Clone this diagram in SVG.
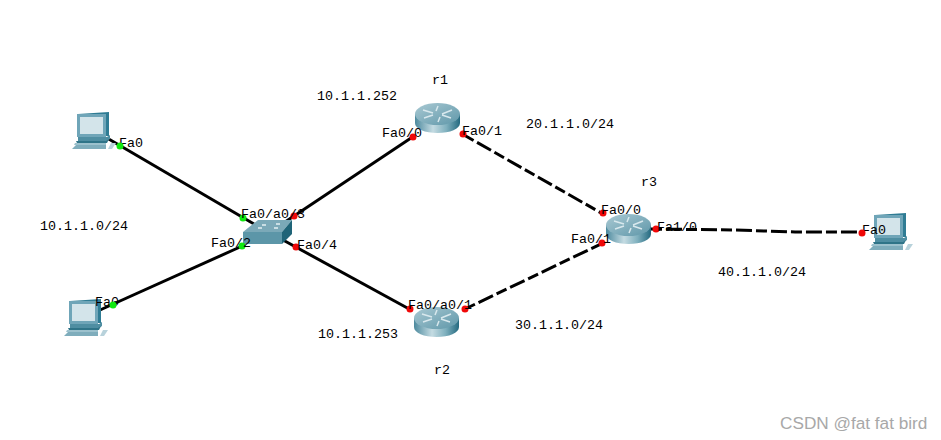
<svg xmlns="http://www.w3.org/2000/svg" width="941" height="440" viewBox="0 0 941 440">
<style>
text{font-family:"Liberation Mono",monospace;font-size:13.33px;fill:#000}
text.wm{font-family:"Liberation Sans",Arial,sans-serif;font-size:17.2px;fill:#a8a8a8}
.l{fill:none;stroke:#000;stroke-width:3}
.d{stroke-dasharray:11 4 16 4}
.g{fill:#10e810}.r{fill:#f00808}
</style>
<defs>
<linearGradient id="rb" x1="0" x2="1" y1="0" y2="0"><stop offset="0" stop-color="#4d8a9e"/><stop offset=".4" stop-color="#c4dbe2"/><stop offset=".7" stop-color="#7fb0be"/><stop offset="1" stop-color="#256a80"/></linearGradient>
<linearGradient id="rt" x1="0" x2="1" y1="0" y2="1"><stop offset="0" stop-color="#a9c9d3"/><stop offset="1" stop-color="#5f97a9"/></linearGradient>
<g id="router">
<path d="M0 11V20C0 26 10 30 22.500 30S45 26 45 20V11Z" fill="url(#rb)"/>
<ellipse cx="22.500" cy="11" rx="22.500" ry="11" fill="url(#rt)"/>
<path d="M8 7 18 10M37 7 27 11M9 15 18 12M36 15 27 12M23 3 21 8M23 19 25 14" stroke="#d8e8ed" stroke-width="1.500" fill="none"/>
</g>
<g id="pc">
<path d="M6 2 37 0V24H35L6 25Z" fill="#2f7c94"/>
<rect x="5" y="2" width="29" height="23" fill="#6fa5b8"/>
<rect x="8" y="5" width="23" height="17" fill="#d3e4ea"/>
<path d="M6 25H35L38 23V27L35 29H6Z" fill="#4f8ea2"/>
<path d="M4 29H34L37 27 35 31H5Z" fill="#2f7488"/>
<path d="M3 31H34V33H2Z" fill="#9cc1cd"/>
<path d="M0 37 4 33H34V37Z" fill="#7fadbc"/>
<path d="M36 37 39 31H44L40 37Z" fill="#b8d2db"/>
</g>
</defs>
<rect width="941" height="440" fill="#fff"/>
<g id="connectors">
<path class="l" d="M107 138 254 224"/>
<path class="l" d="M100 310 240 247"/>
<path class="l" d="M285 222 414 136"/>
<path class="l" d="M283 240 411 310"/>
<path class="l d" d="M464 135 603 214"/>
<path class="l d" d="M465 309 603 243"/>
<path class="l d" d="M651 229 735 230 795 232 862 232"/>
</g>
<g id="pc1"><use href="#pc" x="72" y="112"/><text x="119" y="147">Fa0</text></g>
<g id="pc2"><use href="#pc" x="64" y="299"/><text x="95" y="306">Fa0</text></g>
<g id="pc3"><use href="#pc" x="869" y="213"/><text x="862" y="234">Fa0</text></g>
<g id="switch">
<path d="M243 232 258 220H292L282 232Z" fill="#7ba9b8"/>
<path d="M243 232H282V244H243Z" fill="#5c96a8"/>
<path d="M282 232 292 220V234L282 244Z" fill="#1f6478"/>
<path d="M258 228h4M276 224h4M262 225h4M274 228h4" stroke="#e4eff2" stroke-width="1.500"/>
</g>
<g id="r1"><use href="#router" x="415" y="103"/><text x="432" y="84">r1</text></g>
<g id="r2"><use href="#router" x="414" y="307"/><text x="434" y="374">r2</text></g>
<g id="r3"><use href="#router" x="606" y="214"/><text x="641" y="186">r3</text></g>
<g id="ports">
<circle class="g" cx="120" cy="146" r="3.500"/><circle class="g" cx="243" cy="218" r="3.500"/>
<circle class="g" cx="242" cy="246" r="3.500"/><circle class="g" cx="113" cy="305" r="3.500"/>
<circle class="r" cx="294" cy="216" r="3.500"/><circle class="r" cx="296" cy="247" r="3.500"/>
<circle class="r" cx="413" cy="137" r="3.500"/><circle class="r" cx="463" cy="134" r="3.500"/>
<circle class="r" cx="603" cy="213" r="3.500"/><circle class="r" cx="602" cy="243" r="3.500"/>
<circle class="r" cx="656" cy="229" r="3.500"/><circle class="r" cx="410" cy="309" r="3.500"/>
<circle class="r" cx="465" cy="309" r="3.500"/><circle class="r" cx="862" cy="233" r="3.500"/>
</g>
<g id="labels">
<text x="241" y="218">Fa0/a0/3</text>
<text x="211" y="247">Fa0/2</text><text x="297" y="249">Fa0/4</text>
<text x="382" y="137">Fa0/0</text><text x="462" y="135">Fa0/1</text>
<text x="601" y="214">Fa0/0</text><text x="571" y="243">Fa0/1</text>
<text x="657" y="231">Fa1/0</text>
<text x="408" y="309">Fa0/a0/1</text>
<text x="317" y="100">10.1.1.252</text><text x="318" y="338">10.1.1.253</text>
<text x="40" y="230">10.1.1.0/24</text><text x="526" y="128">20.1.1.0/24</text>
<text x="515" y="329">30.1.1.0/24</text><text x="718" y="276">40.1.1.0/24</text>
<text class="wm" x="780" y="429">CSDN @fat fat bird</text>
</g>
</svg>
